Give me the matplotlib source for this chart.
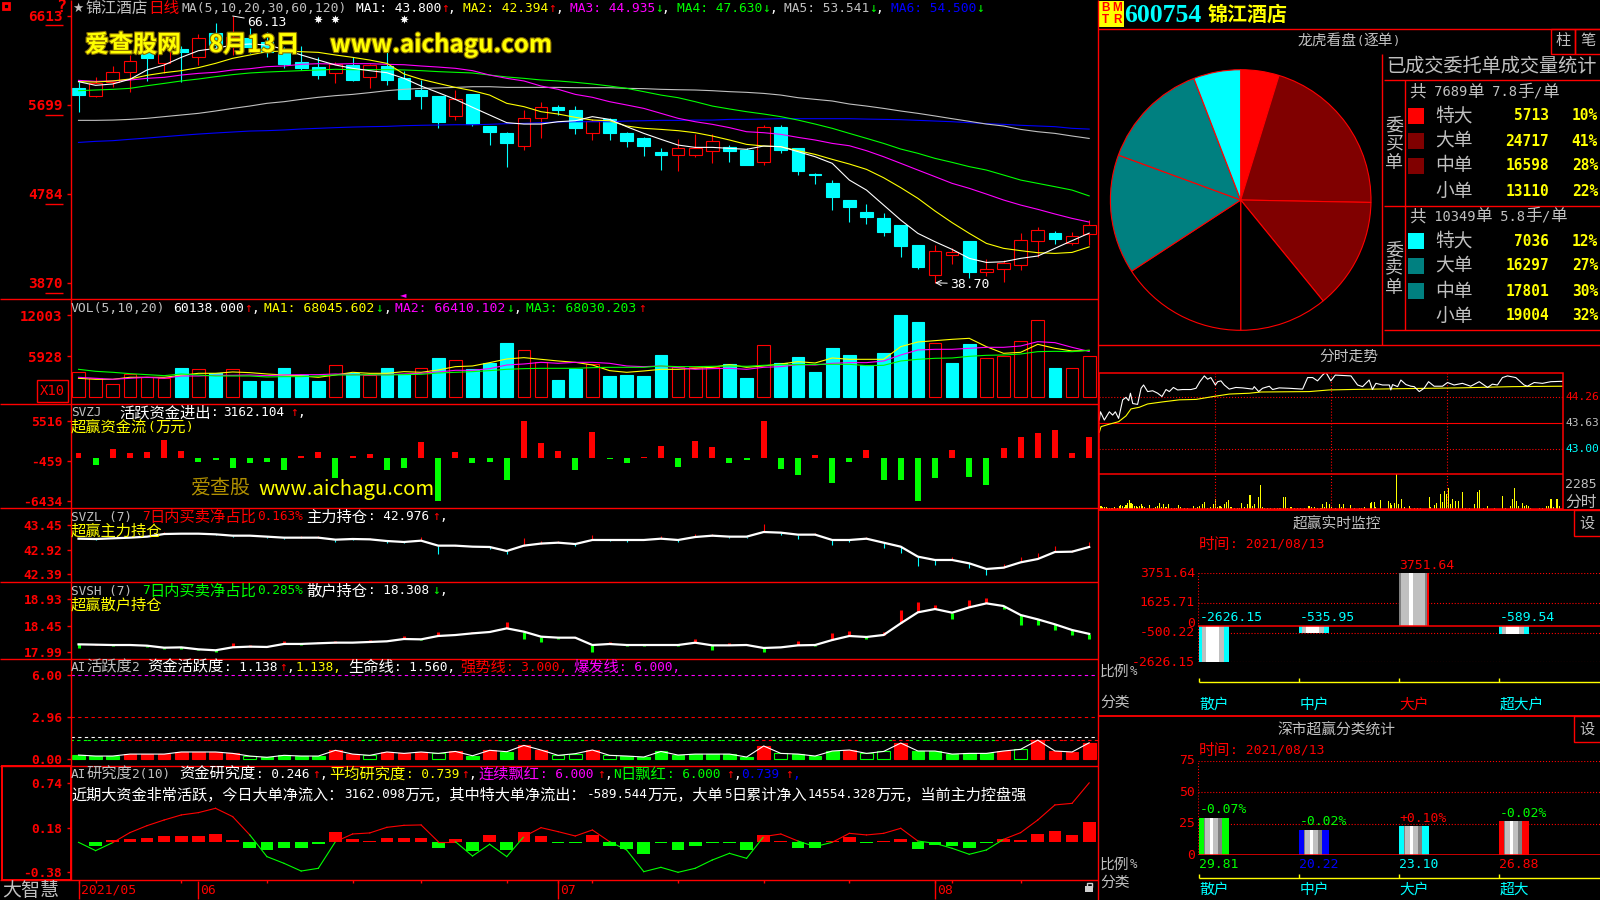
import re
import numpy as np
import matplotlib
matplotlib.use("Agg")
import matplotlib.pyplot as plt
from matplotlib.patches import Rectangle
import matplotlib.patheffects as pe

# ---- daily candles
opens = [58.69, 57.94, 59.38, 60.41, 62.46, 61.26, 62.70, 61.88, 64.35, 62.98,
         63.83, 63.49, 62.46, 61.37, 60.85, 60.23, 61.09, 59.82, 60.99, 59.72,
         58.52, 57.90, 55.88, 58.07, 54.82, 54.06, 52.79, 55.67, 56.77, 56.46,
         54.13, 55.50, 54.06, 53.58, 52.14, 51.87, 51.87, 52.28, 52.66, 52.31,
         51.15, 54.71, 52.52, 49.91, 48.96, 47.21, 45.97, 45.36, 44.64, 42.58,
         39.53, 41.58, 42.99, 39.84, 40.08, 40.56, 43.02, 43.81, 42.82, 43.71]
closes = [58.00, 59.20, 60.34, 61.47, 61.84, 62.98, 62.43, 63.83, 63.15, 64.00,
          62.98, 62.46, 61.23, 60.82, 60.10, 61.19, 59.55, 61.06, 59.55, 57.59,
          57.90, 55.23, 57.56, 55.02, 54.20, 53.07, 55.61, 56.81, 56.46, 54.61,
          55.36, 54.13, 53.27, 52.76, 51.83, 52.52, 52.59, 53.24, 52.24, 50.81,
          54.68, 52.38, 50.19, 49.81, 47.52, 46.49, 45.46, 43.92, 42.48, 40.32,
          41.93, 41.82, 39.80, 40.08, 40.69, 43.06, 44.09, 43.23, 43.47, 44.60]
highs = [59.38, 59.82, 60.99, 62.12, 63.32, 64.00, 63.04, 64.28, 65.38, 66.13,
         64.86, 64.52, 62.98, 63.04, 61.88, 61.43, 61.88, 61.19, 62.46, 60.51,
         59.55, 57.90, 58.52, 58.07, 54.82, 54.20, 56.46, 57.32, 56.98, 56.87,
         55.50, 55.61, 54.20, 53.72, 52.52, 53.45, 53.99, 53.96, 52.86, 52.52,
         54.89, 54.89, 52.52, 50.02, 49.23, 47.21, 46.79, 45.84, 44.64, 42.58,
         42.54, 42.24, 42.99, 41.11, 41.04, 43.78, 44.40, 44.02, 43.88, 45.15]
lows = [56.29, 57.83, 58.86, 58.35, 59.48, 60.23, 59.38, 61.09, 62.63, 62.12,
        62.29, 61.95, 60.75, 60.58, 59.65, 59.27, 59.45, 58.76, 59.03, 57.59,
        56.60, 54.65, 55.43, 54.82, 52.86, 50.64, 52.35, 53.62, 55.95, 53.99,
        53.38, 53.38, 52.69, 51.73, 50.29, 50.19, 51.66, 50.98, 51.11, 50.81,
        50.81, 52.07, 49.78, 48.85, 46.18, 44.94, 44.74, 43.50, 41.34, 40.11,
        38.70, 40.63, 39.22, 39.39, 38.75, 40.01, 41.38, 42.68, 42.58, 42.58]

ma1 = [59.38, 59.00, 59.14, 59.62, 60.58, 61.09, 61.88, 62.56, 62.80, 63.15,
       63.25, 63.15, 62.70, 62.12, 61.60, 61.09, 60.75, 60.51, 60.30, 59.72,
       58.93, 58.25, 57.56, 56.74, 55.95, 55.16, 55.02, 55.02, 55.26, 55.36,
       55.78, 55.50, 54.75, 54.06, 53.45, 52.86, 52.62, 52.62, 52.52, 52.42,
       52.76, 52.69, 52.18, 51.66, 50.98, 49.26, 48.23, 46.69, 45.15, 43.78,
       42.92, 42.13, 41.21, 40.79, 40.86, 41.21, 41.45, 42.24, 43.03, 43.80]
ma2 = [59.38, 59.34, 59.45, 59.65, 60.03, 60.30, 60.51, 60.82, 61.26, 61.78,
       62.12, 62.46, 62.53, 62.46, 62.39, 62.12, 61.88, 61.60, 61.26, 60.17,
       59.62, 59.20, 58.79, 58.45, 58.00, 57.15, 56.81, 56.29, 56.05, 55.71,
       55.43, 55.36, 54.82, 54.58, 54.47, 54.34, 54.13, 53.79, 53.38, 52.93,
       52.76, 52.69, 52.28, 51.90, 51.39, 50.91, 50.36, 49.50, 48.48, 47.38,
       46.08, 44.88, 43.78, 42.75, 42.24, 42.00, 41.79, 41.72, 41.82, 42.39]
ma3 = [59.51, 59.41, 59.45, 59.55, 59.72, 59.82, 60.06, 60.23, 60.34, 60.58,
       60.71, 60.92, 60.99, 61.16, 61.23, 61.19, 61.23, 61.23, 61.16, 61.12,
       60.99, 60.88, 60.75, 60.51, 60.06, 59.72, 59.45, 58.93, 58.59, 58.07,
       57.77, 57.32, 56.98, 56.63, 56.12, 55.61, 55.26, 54.99, 54.65, 54.23,
       54.13, 53.96, 53.65, 53.38, 53.03, 52.79, 52.28, 51.66, 50.98, 50.29,
       49.61, 48.92, 48.41, 47.82, 47.21, 46.69, 46.25, 45.77, 45.32, 44.94]
ma4 = [58.45, 58.52, 58.59, 58.69, 58.96, 59.20, 59.45, 59.65, 59.89, 60.10,
       60.27, 60.37, 60.44, 60.51, 60.58, 60.65, 60.61, 60.61, 60.61, 60.58,
       60.51, 60.41, 60.34, 60.27, 60.06, 59.86, 59.72, 59.55, 59.45, 59.31,
       59.14, 58.93, 58.69, 58.35, 58.00, 57.73, 57.32, 56.87, 56.57, 56.29,
       56.05, 55.78, 55.43, 55.02, 54.58, 54.06, 53.55, 53.03, 52.45, 52.01,
       51.49, 51.08, 50.64, 50.29, 49.78, 49.26, 48.92, 48.58, 48.23, 47.63]
ma5 = [55.40, 55.40, 55.43, 55.50, 55.61, 55.78, 55.95, 56.12, 56.36, 56.63,
       56.87, 57.15, 57.32, 57.56, 57.77, 57.94, 58.07, 58.25, 58.45, 58.59,
       58.69, 58.73, 58.79, 58.86, 58.86, 58.79, 58.79, 58.79, 58.79, 58.76,
       58.76, 58.76, 58.69, 58.66, 58.59, 58.55, 58.52, 58.45, 58.35, 58.28,
       58.17, 58.00, 57.73, 57.56, 57.39, 57.08, 56.87, 56.63, 56.36, 56.12,
       55.85, 55.57, 55.30, 55.02, 54.82, 54.47, 54.23, 54.06, 53.79, 53.54]
ma6 = [53.13, 53.24, 53.31, 53.45, 53.58, 53.72, 53.86, 53.99, 54.10, 54.20,
       54.30, 54.34, 54.41, 54.51, 54.58, 54.65, 54.71, 54.75, 54.78, 54.85,
       54.89, 54.92, 54.95, 54.95, 54.99, 55.06, 55.09, 55.16, 55.23, 55.26,
       55.26, 55.26, 55.33, 55.36, 55.40, 55.40, 55.43, 55.43, 55.50, 55.50,
       55.53, 55.57, 55.57, 55.57, 55.57, 55.57, 55.53, 55.50, 55.47, 55.40,
       55.33, 55.26, 55.16, 55.06, 54.99, 54.89, 54.82, 54.75, 54.58, 54.50]
signal_days = [14, 15, 19]

# ---- volume (X10)
volume = [3577, 2695, 1813, 3283, 2842, 2695, 4214, 4018, 3430, 4018,
          2303, 2303, 4214, 3136, 2303, 4606, 3430, 3136, 4214, 3283,
          4165, 5684, 5341, 4018, 4949, 7889, 6811, 5096, 2450, 4018,
          4802, 3038, 3185, 3038, 6125, 4312, 4312, 4312, 4802, 2744,
          7546, 4949, 5831, 3626, 7154, 6125, 4606, 6419, 12003, 10976,
          7840, 4949, 7742, 5635, 5929, 8134, 11221, 4214, 4165, 6014]
vol_up_days = [0, 1, 2, 3, 4, 5, 7, 9, 15, 17, 20, 22, 26, 27, 30, 35, 36, 37,
               40, 50, 53, 54, 55, 56, 58, 59]
vol_ma1 = [2695, 2548, 2548, 2842, 2842, 2842, 3136, 3430, 3430, 3626,
           3528, 3332, 3185, 3038, 2842, 3185, 3577, 3430, 3430, 3675,
           3577, 3920, 4410, 4508, 4998, 5537, 5733, 5488, 5243, 5047,
           4655, 3822, 3577, 3773, 4018, 4018, 4165, 4312, 4704, 4312,
           4508, 4802, 5145, 4949, 5684, 5488, 5488, 5488, 7350, 8036,
           8232, 8428, 8575, 7350, 6370, 6517, 7693, 7105, 6713, 6805]
vol_ma2 = [2842, 2695, 2548, 2695, 2842, 2695, 3038, 3038, 3136, 3136,
           3185, 3087, 3185, 3234, 3234, 3332, 3234, 3185, 3234, 3332,
           3430, 3626, 3871, 3871, 4116, 4655, 4802, 5047, 4900, 5047,
           5047, 4900, 4508, 4410, 4508, 4263, 4018, 4116, 4165, 4018,
           4312, 4410, 4704, 4655, 4900, 4998, 4998, 5243, 6125, 6860,
           6958, 6958, 7105, 7252, 7252, 7448, 8085, 7938, 7252, 6641]
vol_ma3 = [4018, 3724, 3577, 3381, 3234, 3087, 3332, 3185, 3038, 3038,
           3038, 2891, 2940, 2940, 3038, 3185, 3185, 3234, 3185, 3234,
           3283, 3479, 3577, 3675, 3822, 4018, 4116, 4165, 4165, 4165,
           4263, 4312, 4312, 4312, 4508, 4410, 4410, 4459, 4508, 4459,
           4606, 4704, 4704, 4753, 4753, 4753, 4557, 4606, 5243, 5488,
           5635, 5684, 5929, 6076, 6125, 6272, 6615, 6664, 6615, 6803]

# ---- active money flow
money = [697, -1096, 1295, 697, 847, 2639, 996, -647, -349, -1544,
         -797, -647, -1843, 249, 847, -3038, 249, 598, -1843, -1544,
         2341, -6434, 847, -797, -647, -3337, 5478, 2191, 996, -1843,
         3835, -199, -797, 100, 1743, -1394, 2490, 1594, -797, -349,
         5516, -1693, -2590, 398, -3785, -647, 1145, -3337, -3337, -6434,
         -3038, 1145, -2888, -4084, 1444, 3088, 3685, 4133, 697, 3162]

# ---- main force holding
svzl = [43.155, 43.148, 43.163, 43.177, 43.199, 43.256, 43.263, 43.263, 43.249, 43.220,
        43.220, 43.199, 43.177, 43.177, 43.177, 43.134, 43.148, 43.141, 43.105, 43.084,
        43.112, 43.005, 43.005, 42.983, 42.976, 42.890, 43.005, 43.050, 43.069, 43.040,
        43.127, 43.127, 43.127, 43.127, 43.155, 43.127, 43.191, 43.220, 43.199, 43.199,
        43.299, 43.285, 43.242, 43.242, 43.127, 43.127, 43.155, 43.069, 42.983, 42.768,
        42.696, 42.696, 42.624, 42.502, 42.530, 42.645, 42.717, 42.868, 42.875, 42.976]
svzl_tick = [0, -.02, 0, 0, 0, .05, 0, 0, -.02, -.036,
             0, -.03, -.036, .036, .036, -.057, -.02, .02, -.036, -.02,
             .086, -.18, .02, 0, -.036, -.07, .16, .057, .043, -.036,
             .1, -.014, -.036, .02, .065, -.043, .057, .036, -.03, -.02,
             .18, -.057, -.093, .03, -.108, -.036, .036, -.108, -.13, -.2,
             -.108, .057, -.1, -.13, .086, .108, .13, .13, .036, .115]

# ---- retail holding
svsh = [18.121, 18.115, 18.109, 18.109, 18.097, 18.061, 18.067, 18.032, 18.015, 18.068,
        18.080, 18.074, 18.128, 18.128, 18.140, 18.151, 18.151, 18.163, 18.175, 18.216,
        18.210, 18.270, 18.287, 18.317, 18.341, 18.406, 18.347, 18.258, 18.240, 18.240,
        18.109, 18.127, 18.109, 18.109, 18.109, 18.109, 18.150, 18.103, 18.103, 18.109,
        18.056, 18.067, 18.103, 18.109, 18.198, 18.270, 18.252, 18.288, 18.496, 18.692,
        18.751, 18.686, 18.781, 18.852, 18.805, 18.644, 18.567, 18.478, 18.377, 18.308]
svsh_tick = [-.07, .02, -.012, .012, -.03, -.03, -.03, -.02, -.03, .07,
             .03, .012, .05, -.012, .03, .03, -.012, .03, 0, .06,
             -.012, .07, .024, .03, 0, .11, -.13, -.09, -.024, .012,
             -.12, .036, -.012, -.024, .024, -.012, .07, -.09, .036, .024,
             -.07, .012, .07, -.012, .12, .09, -.03, .05, .24, .18,
             .07, -.12, .14, .09, -.06, -.17, -.1, -.11, -.09, -.09]

# ---- AI activity: r = red, g = green, h = hollow green
ai_act = [.26, .19, .19, .33, .33, .33, .48, .48, .48, .38,
          .19, .10, .24, .19, .19, .60, .33, .24, .48, .38,
          .48, .38, .52, .21, .60, .50, .95, .62, .24, .36,
          .62, .24, .19, .12, .52, .26, .33, .33, .33, .12,
          .91, .38, .33, .19, .55, .62, .38, .52, 1.12, .55,
          .55, .33, .38, .38, .55, .67, 1.33, .55, .48, 1.138]
ai_kind = list("gggrrrrrrrhggggrrhrrrhrgrgrrhhrhggggggggrhgggrhhrgggggrhrrrr")
ai_burst, ai_strong, ai_life, ai_mid = 6.0, 3.0, 1.56, 1.31

# ---- AI research
research = [-.004, -.108, -.008, .117, .204, .275, .338, .367, .421, .317,
            .088, -.183, -.267, -.363, -.329, .004, .100, .113, .183, .208,
            .213, .004, .004, -.175, -.029, -.183, .067, .179, .129, .075,
            .150, .004, -.100, -.371, -.317, -.379, -.329, -.225, -.142, -.204,
            .067, .100, .012, -.058, -.004, .108, .088, .108, .171, .012,
            -.017, -.079, -.154, -.100, .033, .117, .275, .463, .483, .739]
research_bar = [-.006, -.05, .025, .037, .05, .075, .075, .075, .10, .025,
                -.075, -.10, -.075, -.075, -.02, .125, .037, .006, .05, .05,
                .05, -.075, .037, -.11, .087, -.10, .125, .075, -.008, -.008,
                .087, -.05, -.087, -.15, -.008, -.10, -.05, -.008, -.008, -.10,
                .087, .012, -.075, -.075, .006, .062, -.008, .008, .037, -.087,
                -.037, -.05, -.075, -.008, .042, .025, .10, .137, .087, .246]
month_days = [0, 7, 28, 50]
month_labels = ["2021/05", "06", "07", "08"]
small_ticks = [0, 1, 6, 11, 16, 20, 25, 28, 30, 35, 40, 45, 50, 51, 55]

# ---- order pie
buy_names = ["特大", "大单", "中单", "小单"]
buy_orders = [5713, 24717, 16598, 13110]
buy_pct = ["10%", "41%", "28%", "22%"]
sell_names = ["特大", "大单", "中单", "小单"]
sell_orders = [7036, 16297, 17801, 19004]
sell_pct = ["12%", "27%", "30%", "32%"]
buy_colors = ["#ff0000", "#800000", "#800000", "#000000"]
sell_colors = ["#00ffff", "#008080", "#008080", "#000000"]

# ---- intraday
minute_t = [.3, .9, 2.9, 5.5, 7.2, 8.6, 10.3, 12.4, 14.1, 15.5, 16.4, 17.6, 20.1, 21.9, 23.2, 25.3,
            27.9, 30.5, 32.7, 34.8, 36.5, 38.6, 40.8, 43.4, 47.7, 50.3, 52.3, 54.6, 56.3, 58, 60.3,
            61.5, 63.2, 64.9, 67.5, 70.9, 74.4, 79.6, 80.4, 82.7, 84.7, 88.2, 89.9, 93.3, 98.5, 105.4,
            108, 110.6, 113.1, 115.7, 117.4, 120, 122.3, 130.4, 133.8, 136.4, 139.8, 141.5, 143.3,
            146.7, 150.2, 151, 151.9, 154.5, 156.2, 158.8, 161.4, 163.1, 165.7, 168.2, 170.5, 173.4,
            177.7, 180.3, 183.7, 188, 192.3, 196.7, 201, 203.5, 206.1, 208.7, 211.3, 215.6, 219.9,
            221.6, 225.1, 229.4, 233.7, 240]
minute_price = [43.71, 43.91, 43.71, 43.91, 43.83, 43.91, 43.75, 44.20, 44.26, 44.18, 44.36, 44.11,
                44.09, 44.48, 44.56, 44.40, 44.42, 44.36, 44.28, 44.45, 44.40, 44.50, 44.44, 44.45,
                44.45, 44.48, 44.64, 44.78, 44.70, 44.74, 44.56, 44.64, 44.66, 44.56, 44.46, 44.50,
                44.49, 44.46, 44.52, 44.40, 44.48, 44.53, 44.45, 44.49, 44.48, 44.46, 44.74, 44.74,
                44.66, 44.80, 44.87, 44.66, 44.80, 44.78, 44.56, 44.52, 44.68, 44.45, 44.60, 44.56,
                44.56, 44.44, 44.57, 44.52, 44.68, 44.57, 44.53, 44.52, 44.40, 44.48, 44.64, 44.53,
                44.53, 44.62, 44.56, 44.60, 44.53, 44.64, 44.50, 44.58, 44.56, 44.74, 44.78, 44.74,
                44.56, 44.53, 44.62, 44.60, 44.64, 44.65]
avg_t = [.3, 1.2, 5.5, 10.3, 14.1, 16.7, 21, 25.3, 33, 41.7, 50.3, 59.2, 67.5, 77.8, 83.9, 108.8,
         119.2, 129.5, 155.3, 186.4, 213.9, 240]
avg_price = [43.41, 43.55, 43.61, 43.67, 43.81, 43.98, 44.02, 44.10, 44.15, 44.20, 44.21, 44.28,
             44.34, 44.36, 44.39, 44.40, 44.44, 44.45, 44.47, 44.49, 44.52, 44.53]
vol_t = [.7, 1.4, 2.1, 2.9, 3.8, 4.6, 5.5, 6.4, 7.2, 8.1, 9.8, 10.7, 11.5, 12.4, 13.3, 14.1, 15, 15.8,
         16.7, 17.6, 18.4, 19.3, 20.1, 21, 21.9, 22.7, 23.6, 25.3, 26.2, 28.2, 29.3, 30.5, 31.3, 32.7,
         33.6, 34.8, 36.2, 37.4, 39.1, 40, 41.2, 42.5, 44.3, 46, 48.9, 49.9, 51.1, 52.3, 53.7, 54.9,
         56.3, 58, 59.2, 60.3, 61.5, 62.7, 63.7, 64.9, 66.1, 67.2, 68.4, 70.1, 71.8, 72.7, 74, 75.3,
         77, 78.2, 79.6, 80.4, 82.5, 83.5, 84.7, 85.6, 87.3, 89, 90.7, 92.5, 93.7, 95.4, 96.4, 97.6,
         99.4, 101.1, 102.8, 104.5, 106.2, 108.3, 109.2, 110.2, 111.4, 113.1, 114.9, 115.7, 116.9,
         117.8, 119.2, 120.5, 122.3, 124.3, 125.5, 126.6, 127.8, 130, 132.1, 134.7, 135.9, 137.2,
         140.3, 141.2, 142.4, 143.3, 145.5, 149.6, 150.7, 151.5, 152.7, 153.8, 155, 156.4, 157.9,
         160.5, 161.4, 163.1, 164.8, 166.5, 170.8, 171.7, 173.4, 174.6, 176.5, 177.7, 178.6, 179.6,
         180.6, 181.7, 182.7, 184.6, 185.8, 187.9, 189.8, 191.5, 194.4, 195.6, 196.7, 198.7, 200.8,
         204.4, 208.5, 210.4, 213, 213.7, 214.7, 215.8, 216.8, 219, 220.1, 221.1, 222.1, 223.3,
         227.7, 229.4, 231.6, 232.5, 233.8, 234.9, 236.9, 238.3]
vol_v = [176, 176, 110, 110, 110, 88, 88, 88, 88, 154, 88, 220, 264, 176, 132, 264, 396, 616,
         396, 308, 220, 176, 132, 220, 308, 176, 110, 88, 264, 88, 132, 176, 396, 132,
         308, 132, 352, 88, 88, 88, 264, 110, 88, 88, 176, 88, 132, 220, 308, 440,
         88, 132, 308, 660, 132, 220, 132, 308, 484, 572, 110, 88, 88, 88, 396, 132,
         308, 924, 220, 308, 770, 1584, 132, 88, 66, 66, 88, 88, 88, 792, 792, 66,
         110, 66, 66, 66, 66, 220, 176, 154, 110, 88, 66, 352, 110,
         484, 308, 132, 88, 352, 132, 352, 88, 286, 88, 88, 88, 110,
         396, 484, 440, 110, 616, 528, 396, 264, 396, 2285, 308, 660, 132,
         176, 88, 66, 66, 88, 792, 132, 264, 396, 968, 440, 1188, 968,
         1364, 308, 660, 528, 528, 1144, 88, 88, 352, 1100, 1276, 88, 176,
         66, 836, 66, 220, 660, 1364, 528, 176, 396, 176, 264, 176, 66,
         66, 88, 176, 176, 660, 132, 660, 176]

# ---- right hand bar panels
cats_a = ["散户", "中户", "大户", "超大户"]
cats_a_colors = ["#00ffff", "#00ffff", "#ff0000", "#00ffff"]
flow_values = [-2626.15, -535.95, 3751.64, -589.54]
cats_b = ["散户", "中户", "大户", "超大"]
share_values = [29.81, 20.22, 23.10, 26.88]
share_change = ["-0.07%", "-0.02%", "+0.10%", "-0.02%"]
share_change_colors = ["#00ff00", "#00ff00", "#ff0000", "#00ff00"]
share_colors = ["#00ff00", "#0000ff", "#00ffff", "#ff0000"]

W, H = 1600, 900
RED, CYAN, GREEN, YEL, MAG, GRAY, BLUE = "#ff0000", "#00ffff", "#00ff00", "#ffff00", "#ff00ff", "#c0c0c0", "#0000ff"
MONO = ["DejaVu Sans Mono", "DejaVu Sans"]
CJK = ["Noto Sans CJK SC", "DejaVu Sans"]
PANEL_X0, PANEL_STEP = 78.5, 17.13
XLIM = ((70.6 - PANEL_X0) / PANEL_STEP, (1098 - PANEL_X0) / PANEL_STEP)
days = np.arange(60)
THIN = 0.8

plt.rcParams["font.family"] = CJK
fig = plt.figure(figsize=(16, 9), dpi=100, facecolor="black")


def panel(l, t, r, b, ylim, xlim=XLIM, ticks=None, labels=None, size=9.5):
    ax = fig.add_axes([l / W, 1 - b / H, (r - l) / W, (b - t) / H], facecolor="black")
    ax.set_xlim(*xlim)
    ax.set_ylim(*ylim)
    ax.set_xticks([])
    for s in ax.spines.values():
        s.set_visible(False)
    if ticks is None:
        ax.set_yticks([])
    else:
        ax.set_yticks(ticks, labels=labels)
        ax.tick_params(axis="y", colors=RED, length=3, width=1, pad=3)
        for lb in ax.get_yticklabels():
            lb.set_fontfamily(MONO)
            lb.set_fontsize(size)
            lb.set_fontweight("bold")
    return ax


# overlay in pixels for frames and captions
ov = fig.add_axes([0, 0, 1, 1], facecolor="none", zorder=20)
ov.set_xlim(0, W)
ov.set_ylim(H, 0)
ov.axis("off")


def put(x, y, s, color, adv=7.65, ha="left", weight="normal"):
    runs = re.findall(r"[\x00-\x7f↑↓]+|[^\x00-\x7f↑↓]+", s)
    cells = sum(len(r) if (r[0].isascii() or r[0] in "↑↓") else 2 * len(r) for r in runs)
    if ha == "right":
        x -= cells * adv
    elif ha == "center":
        x -= cells * adv / 2
    for r in runs:
        if r[0].isascii() or r[0] in "↑↓":
            ov.text(x, y, r, family=MONO, fontsize=adv / 0.602 * 0.72, color=color,
                    va="center", ha="left", weight=weight)
            x += len(r) * adv
        else:
            ov.text(x, y, r, family=CJK, fontsize=2 * adv * 0.72, color=color,
                    va="center", ha="left", weight=weight)
            x += 2 * adv * len(r)


def hline(y, x0, x1, color=RED, lw=1.0, ls="-"):
    ov.plot([x0, x1], [y, y], color=color, lw=lw, ls=ls, solid_capstyle="butt")


def vline(x, y0, y1, color=RED, lw=1.0, ls="-"):
    ov.plot([x, x], [y0, y1], color=color, lw=lw, ls=ls, solid_capstyle="butt")


# ---- candles
ax = panel(70.6, 0, 1098, 299, (37.03, 67.775), ticks=[66.13, 56.99, 47.84, 38.70],
           labels=["6613", "5699", "4784", "3870"], size=10.4)
for i in days:
    up = closes[i] >= opens[i]
    c = RED if up else CYAN
    ax.vlines(i, lows[i], highs[i], color=c, lw=THIN, zorder=2)
    bot, top = min(opens[i], closes[i]), max(opens[i], closes[i])
    ax.bar(i, top - bot, bottom=bot, width=0.74, facecolor="black" if up else CYAN,
           edgecolor=c, lw=THIN, zorder=3)
for vals, c in [(ma6, BLUE), (ma5, GRAY), (ma4, GREEN), (ma3, MAG), (ma2, YEL), (ma1, "white")]:
    ax.plot(days, vals, color=c, lw=THIN, zorder=4)
ax.scatter(signal_days, [65.85] * len(signal_days), marker=(8, 1, 0), s=38, color="white", lw=0, zorder=5)
ax.annotate("66.13", xy=(9, 66.13), xytext=(247, 22), textcoords=ov.transData, color="white",
            family=MONO, fontsize=9.4, va="center",
            arrowprops=dict(arrowstyle="-", color="white", lw=0.7, shrinkA=0, shrinkB=0), zorder=6)
ax.annotate("38.70", xy=(50, 38.70), xytext=(950, 284), textcoords=ov.transData, color="white",
            family=MONO, fontsize=9.4, va="center",
            arrowprops=dict(arrowstyle="->", color="white", lw=0.7, shrinkA=0, shrinkB=0), zorder=6)

# ---- volume
ax = panel(70.6, 299.5, 1098, 404.3, (-1127, 14283), ticks=[12003, 5928], labels=["12003", "5928"], size=10.2)
for i in days:
    up = i in vol_up_days
    ax.bar(i, volume[i], width=0.74, facecolor="black" if up else CYAN, edgecolor=RED if up else CYAN, lw=THIN)
for vals, c in [(vol_ma1, YEL), (vol_ma2, MAG), (vol_ma3, GREEN)]:
    ax.plot(days, vals, color=c, lw=THIN)

# ---- money flow
ax = panel(70.6, 404.3, 1098, 508.3, (-7565, 7973), ticks=[5516, -459, -6434],
           labels=["5516", "-459", "-6434"], size=9.4)
ax.bar(days, money, width=0.35, color=[RED if v > 0 else GREEN for v in money])

# ---- holdings
ax = panel(70.6, 508.3, 1098, 582.3, (42.215, 43.81), ticks=[43.45, 42.92, 42.39],
           labels=["43.45", "42.92", "42.39"], size=9.3)
ax.vlines(days, svzl, np.array(svzl) + np.array(svzl_tick),
          color=[RED if v > 0 else CYAN for v in svzl_tick], lw=THIN)
ax.plot(days, svzl, color="white", lw=1.6)

ax = panel(70.6, 582.3, 1098, 659.3, (17.854, 19.228), ticks=[18.93, 18.45, 17.99],
           labels=["18.93", "18.45", "17.99"], size=9.3)
ax.vlines(days, svsh, np.array(svsh) + np.array(svsh_tick),
          color=[RED if v > 0 else GREEN for v in svsh_tick], lw=2.2)
ax.plot(days, svsh, color="white", lw=1.6)

# ---- AI activity
ax = panel(70.6, 659.3, 1098, 766.3, (-0.543, 7.107), ticks=[6.0, 2.96, 0.0], labels=["6.00", "2.96", "0.00"], size=9.3)
dash = (0, (3, 3))
ax.axhline(ai_burst, color=MAG, lw=THIN, ls=dash)
ax.axhline(ai_strong, color=RED, lw=THIN, ls=dash)
ax.axhline(ai_life, color="white", lw=THIN, ls=dash)
ax.hlines([ai_mid] * 60, days - 0.5, days + 0.5, color=[RED if k == "r" else GREEN for k in ai_kind], lw=THIN, ls=dash)
for i in days:
    k = ai_kind[i]
    ax.bar(i, ai_act[i], width=0.74, facecolor={"r": RED, "g": GREEN, "h": "black"}[k],
           edgecolor=RED if k == "r" else GREEN, lw=THIN)
ax.plot(days, ai_act, color="white", lw=THIN)

# ---- AI research
ax = panel(70.6, 766.3, 1098, 880.3, (-0.479, 0.946), ticks=[0.74, 0.18, -0.38], labels=["0.74", "0.18", "-0.38"], size=9.3)
ax.bar(days, research_bar, width=0.74, color=[RED if v > 0 else GREEN for v in research_bar])
for i in range(59):
    c = RED if research[i] + research[i + 1] > 0 else GREEN
    ax.plot([i, i + 1], research[i:i + 2], color=c, lw=THIN)
ax.set_xticks(small_ticks, labels=[""] * len(small_ticks))
ax.tick_params(axis="x", colors=RED, length=2, width=1)

# ---- pie
r_px = 130.3 * 1.02
ax = panel(1240.7 - r_px, 200 - r_px, 1240.7 + r_px, 200 + r_px, (-1.02, 1.02), xlim=(-1.02, 1.02))
ax.pie(buy_orders + sell_orders[::-1], colors=buy_colors + sell_colors[::-1], startangle=90,
       counterclock=False, wedgeprops=dict(edgecolor=RED, linewidth=THIN))
ax.set_xlim(-1.02, 1.02)
ax.set_ylim(-1.02, 1.02)

# ---- intraday
ax = panel(1098.7, 372.7, 1563, 474.3, (42.394, 44.858), xlim=(0, 240))
for p, ls in [(44.26, ":"), (43.63, "-"), (43.00, ":")]:
    ax.axhline(p, color=RED, lw=THIN, ls=ls)
for m in [60, 120, 180]:
    ax.axvline(m, color=RED, lw=THIN, ls=":")
ax.plot(avg_t, avg_price, color=YEL, lw=THIN)
ax.plot(minute_t, minute_price, color="white", lw=THIN)

ax = panel(1098.7, 474.3, 1563, 509, (0, 2285), xlim=(0, 240))
for m in [60, 120, 180]:
    ax.axvline(m, color=RED, lw=THIN, ls=":")
ax.bar(vol_t, vol_v, width=0.55, color=YEL)

# ---- realtime flow bars
pos_stripes = [(0, .06, "#808080"), (.06, .32, GRAY), (.32, .48, "white"), (.48, .88, GRAY), (.88, .93, "#808080"), (.93, 1, RED)]
neg_stripes = [(0, .1, CYAN), (.1, .23, GRAY), (.23, .68, "white"), (.68, .84, GRAY), (.84, 1, CYAN)]
flow_ticks = [3751.64, 1625.71, -500.22, -2626.15]
flow_y = (573.3, 662.3)
cat_xlim = ((1197.7 - 1214) / 100, (1600 - 1214) / 100)
ax = panel(1197.7, flow_y[0], 1600, flow_y[1], (-2626.15, 3751.64), xlim=cat_xlim)
for t in flow_ticks:
    ax.axhline(t, color=RED, lw=THIN, ls=":")
ax.axvline(cat_xlim[0], color=RED, lw=THIN, ls=":")
bw = 0.293
for i, v in enumerate(flow_values):
    for s0, s1, c in (pos_stripes if v > 0 else neg_stripes):
        ax.bar(i - bw / 2 + bw * s0, v, width=bw * (s1 - s0), align="edge", color=c, zorder=3)
ax.axhline(0, color=RED, lw=1.1, zorder=4)
zero_px = flow_y[0] + 3751.64 / 6377.79 * (flow_y[1] - flow_y[0])
for t in flow_ticks:
    py = flow_y[0] + (3751.64 - t) / 6377.79 * (flow_y[1] - flow_y[0])
    put(1195, py, f"{t:.2f}", RED, adv=7.9, ha="right")
put(1195, zero_px - 2, "0", RED, adv=7.9, ha="right")
for i, v in enumerate(flow_values):
    py = flow_y[0] + (3751.64 - max(v, 0)) / 6377.79 * (flow_y[1] - flow_y[0])
    put(1199.3 + 100 * i, py - 8, f"{v:.2f}", RED if v > 0 else CYAN, adv=7.9)
    put(1199.3 + 100 * i, 705, cats_a[i], cats_a_colors[i], adv=7.4)
    vline(1199.3 + 100 * i, 678, 682.3, color=YEL)
    vline(1199.3 + 100 * i, 874, 878.3, color=YEL)
hline(682.3, 1199, 1600, color=YEL)

# ---- category share bars
share_y = (760.7, 855.3)
ax = panel(1197.7, share_y[0], 1600, share_y[1], (0, 75), xlim=cat_xlim)
for t in [25, 50, 75]:
    ax.axhline(t, color=RED, lw=THIN, ls=":")
    put(1195, share_y[1] - t / 75 * 94.6, str(t), RED, adv=7.9, ha="right")
put(1195, share_y[1], "0", RED, adv=7.9, ha="right")
ax.axvline(cat_xlim[0], color=RED, lw=THIN, ls=":")
for i, v in enumerate(share_values):
    c = share_colors[i]
    for s0, s1, col in [(0, .15, c), (.15, .2, "#808080"), (.2, .38, GRAY), (.38, .46, "white"),
                        (.46, .65, GRAY), (.65, .76, "#808080"), (.76, 1, c)]:
        ax.bar(i - bw / 2 + bw * s0, v, width=bw * (s1 - s0), align="edge", color=col, zorder=3)
    py = share_y[1] - v / 75 * 94.6
    put(1199.3 + 100 * i, py - 8, share_change[i], share_change_colors[i], adv=7.9)
    put(1199.3 + 100 * i, 865, f"{v:.2f}", c, adv=7.9)
    put(1199.3 + 100 * i, 890, cats_b[i], CYAN, adv=7.4)
ax.axhline(0, color=RED, lw=1.1, zorder=4)
hline(878.3, 1199, 1600, color=YEL)

# ---- frames of the left column
vline(70.6, 0, 880.3)
vline(1098.3, 0, 900)
for y in [299.3, 404.3, 508.3, 582.3, 659.3, 766.3, 880.3]:
    hline(y, 0, 1098)
ov.add_patch(Rectangle((1.5, 766.3), 69, 114, fill=False, ec=RED, lw=1.4))
for y in [25, 114.7, 203.7, 292.7]:
    hline(y, 45, 63)
ov.add_patch(Rectangle((37, 380), 30.5, 21.7, fill=False, ec=RED, lw=1.0))
ov.text(52, 391, "X10", color=RED, family=MONO, fontsize=10, ha="center", va="center")
ov.add_patch(Rectangle((3, 3), 6, 6, fill=False, ec=RED, lw=2))
ov.text(61, 7, "?", color=RED, family=MONO, weight="bold", fontsize=12, ha="center", va="center")
ov.text(403, 295, "◄", color=MAG, family="DejaVu Sans", fontsize=6, ha="center", va="center")

# ---- captions of the left column
ov.text(77.5, 8.5, "★", color=GRAY, family="DejaVu Sans", fontsize=9, ha="center", va="center")
put(86, 8.5, "锦江酒店", GRAY, adv=7.8)
put(148, 8.5, "日线", RED, adv=7.8)
put(182, 8.5, "MA(5,10,20,30,60,120)", GRAY, adv=7.8)
for x, s, c, arrow, ac in [(356, "MA1: 43.800", "white", "↑", RED), (463, "MA2: 42.394", YEL, "↑", RED),
                           (570, "MA3: 44.935", MAG, "↓", GREEN), (677, "MA4: 47.630", GREEN, "↓", GREEN),
                           (784, "MA5: 53.541", GRAY, "↓", GREEN), (891, "MA6: 54.500", BLUE, "↓", GREEN)]:
    put(x, 8.5, s, c, adv=7.75)
    put(x + 85, 8.5, arrow, ac, adv=7.75)
    if x < 891:
        put(x + 92, 8.5, ",", "white", adv=7.75)

stroke = [pe.withStroke(linewidth=1.6, foreground="#8a7000")]
for x, s in [(85, "爱查股网"), (209, "8月13日"), (330, "www.aichagu.com")]:
    ov.text(x, 45, s, color=YEL, family=CJK, weight="bold", fontsize=17.3, va="center", path_effects=stroke)
ov.text(190, 489, "爱查股", color="#b09000", family=CJK, fontsize=14.4, va="center")
ov.text(258, 489, "www.aichagu.com", color=YEL, family=CJK, fontsize=14.6, va="center")

put(71, 308, "VOL(5,10,20)", GRAY, adv=7.8)
put(173.5, 308, "60138.000", "white", adv=7.8)
put(244, 308, "↑", RED, adv=7.8)
put(252, 308, ",", "white", adv=7.8)
put(264, 308, "MA1: 68045.602", YEL, adv=7.9)
put(375, 308, "↓", GREEN, adv=7.8)
put(383, 308, ",", "white", adv=7.8)
put(395, 308, "MA2: 66410.102", MAG, adv=7.9)
put(506, 308, "↓", GREEN, adv=7.8)
put(514, 308, ",", "white", adv=7.8)
put(526, 308, "MA3: 68030.203", GREEN, adv=7.9)
put(638, 308, "↑", RED, adv=7.8)

put(71, 413, "SVZJ", GRAY)
put(119, 413, "活跃资金进出:", "white")
put(223, 413, "3162.104", "white")
put(290, 413, "↑", RED)
put(297, 413, ",", "white")
put(71, 427, "超赢资金流(万元)", YEL)

put(71, 517, "SVZL (7)", GRAY)
put(142, 517, "7日内买卖净占比0.163%", RED)
put(306.5, 517, "主力持仓: 42.976", "white")
put(432, 517, "↑", RED)
put(439, 517, ",", "white")
put(71, 531, "超赢主力持仓", YEL)

put(71, 591, "SVSH (7)", GRAY)
put(142, 591, "7日内买卖净占比0.285%", GREEN)
put(306.5, 591, "散户持仓: 18.308", "white")
put(432, 591, "↓", GREEN)
put(439, 591, ",", "white")
put(71, 605, "超赢散户持仓", YEL)

put(71, 667.3, "AI活跃度2", GRAY)
put(147, 667.3, "资金活跃度: 1.138", "white")
put(279, 667.3, "↑", RED)
put(286, 667.3, ",", "white")
put(296, 667.3, "1.138,", YEL)
put(348, 667.3, "生命线: 1.560,", "white")
put(460, 667.3, "强势线: 3.000,", RED)
put(573, 667.3, "爆发线: 6.000,", MAG)

put(71, 774.7, "AI研究度2(10)", GRAY)
put(179, 774.7, "资金研究度: 0.246", "white")
put(312, 774.7, "↑", RED)
put(319, 774.7, ",", "white")
put(329, 774.7, "平均研究度: 0.739", YEL)
put(461, 774.7, "↑", RED)
put(468, 774.7, ",", "white")
put(478.6, 774.7, "连续飘红: 6.000", MAG)
put(597, 774.7, "↑", RED)
put(604, 774.7, ",", "white")
put(613, 774.7, "N日飘红: 6.000", GREEN)
put(726, 774.7, "↑", RED)
put(733, 774.7, ",", "white")
put(741.5, 774.7, "0.739", BLUE)
put(785, 774.7, "↑", RED)
put(792, 774.7, ",", BLUE)
put(71, 795, "近期大资金非常活跃，今日大单净流入：3162.098万元，其中特大单净流出：-589.544万元，大单5日累计净入14554.328万元，当前主力控盘强",
    "white", adv=7.59)

# ---- date row
put(2, 890, "大智慧", GRAY, adv=9.5)
for d, s in zip(month_days, month_labels):
    px = PANEL_X0 + PANEL_STEP * d
    vline(px, 881, 899)
    put(px + 2, 890, s, RED, adv=7.9)
ov.add_patch(Rectangle((1085, 886), 8, 6, fc="#d0d0d0", ec="none"))
ov.add_patch(Rectangle((1086.5, 882.5), 5, 4, fill=False, ec="#d0d0d0", lw=1))

# ---- right column head
ov.add_patch(Rectangle((1098.7, 1), 25.6, 25.7, fc=YEL, ec="none"))
for x, y, s in [(1105, 8, "B"), (1117.5, 8, "M"), (1105, 20, "T"), (1117.5, 20, "R")]:
    ov.text(x, y, s, color=RED, family="Liberation Sans", weight="bold", fontsize=8.5, ha="center", va="center")
ov.text(1124, 15, "600754", color=CYAN, family="Liberation Serif", weight="bold", fontsize=18.5, va="center")
ov.text(1207.7, 14, "锦江酒店", color=YEL, family=CJK, weight="bold", fontsize=14.4, va="center")
hline(28.5, 1098, 1600)
put(1349, 41, "龙虎看盘(逐单)", GRAY, adv=7.4, ha="center")
ov.add_patch(Rectangle((1550.7, 28.5), 24.5, 25, fill=False, ec=RED, lw=1))
ov.add_patch(Rectangle((1575.2, 28.5), 26, 25, fill=False, ec=RED, lw=1))
put(1563, 41, "柱", GRAY, adv=7.6, ha="center")
put(1588, 41, "笔", GRAY, adv=7.6, ha="center")

# ---- order table
vline(1382, 54, 344.5)
put(1386.7, 66, "已成交委托单成交量统计", GRAY, adv=9.6)
hline(80.3, 1384, 1600)
hline(205.5, 1384, 1600)
hline(330, 1384, 1600)
hline(344.5, 1098, 1600)
vline(1405, 80.3, 330)
for y, s in [(125, "委"), (143, "买"), (163, "单"), (250, "委"), (268, "卖"), (288, "单")]:
    put(1394, y, s, GRAY, adv=9.0, ha="center")
put(1409, 92, "共 7689单 7.8手/单", GRAY, adv=8.3)
put(1409, 217, "共 10349单 5.8手/单", GRAY, adv=8.3)
for top, names, orders, pct, cols in [(116, buy_names, buy_orders, buy_pct, buy_colors),
                                      (241, sell_names, sell_orders, sell_pct, sell_colors)]:
    for i in range(4):
        y = top + 25 * i
        if i < 3:
            ov.add_patch(Rectangle((1408, y - 8), 16, 16, fc=cols[i], ec="none"))
        put(1435, y, names[i], GRAY, adv=9.4)
        put(1549, y, str(orders[i]), YEL, adv=8.75, ha="right", weight="bold")
        put(1598, y, pct[i], YEL, adv=8.75, ha="right", weight="bold")

# ---- intraday frame
put(1349, 356.7, "分时走势", GRAY, adv=7.4, ha="center")
ov.add_patch(Rectangle((1098.7, 372.7), 464.3, 136.5, fill=False, ec=RED, lw=1.1))
hline(474.3, 1098.7, 1563, lw=1.1)
hline(509.6, 1098, 1600, lw=1.3)
put(1565, 397.3, "44.26", RED, adv=6.8)
put(1565, 423.3, "43.63", GRAY, adv=6.8)
put(1565, 449.3, "43.00", CYAN, adv=6.8)
put(1565, 484, "2285", GRAY, adv=7.9)
put(1565, 502, "分时", GRAY, adv=7.9)

# ---- bar panel captions
put(1337, 523, "超赢实时监控", GRAY, adv=7.4, ha="center")
put(1199, 544, "时间: 2021/08/13", RED, adv=7.85)
put(1100, 671.7, "比例%", GRAY, adv=7.4)
put(1100, 702.7, "分类", GRAY, adv=7.4)
hline(716, 1098, 1600, lw=1.3)
put(1337, 729, "深市超赢分类统计", GRAY, adv=7.4, ha="center")
put(1199, 750, "时间: 2021/08/13", RED, adv=7.85)
put(1100, 865, "比例%", GRAY, adv=7.4)
put(1100, 883, "分类", GRAY, adv=7.4)
for y0 in [510, 716]:
    ov.add_patch(Rectangle((1574, y0), 27, 26, fill=False, ec=RED, lw=1))
    put(1587, y0 + 13, "设", GRAY, adv=7.6, ha="center")

fig.savefig("out.png", dpi=100, facecolor="black")
